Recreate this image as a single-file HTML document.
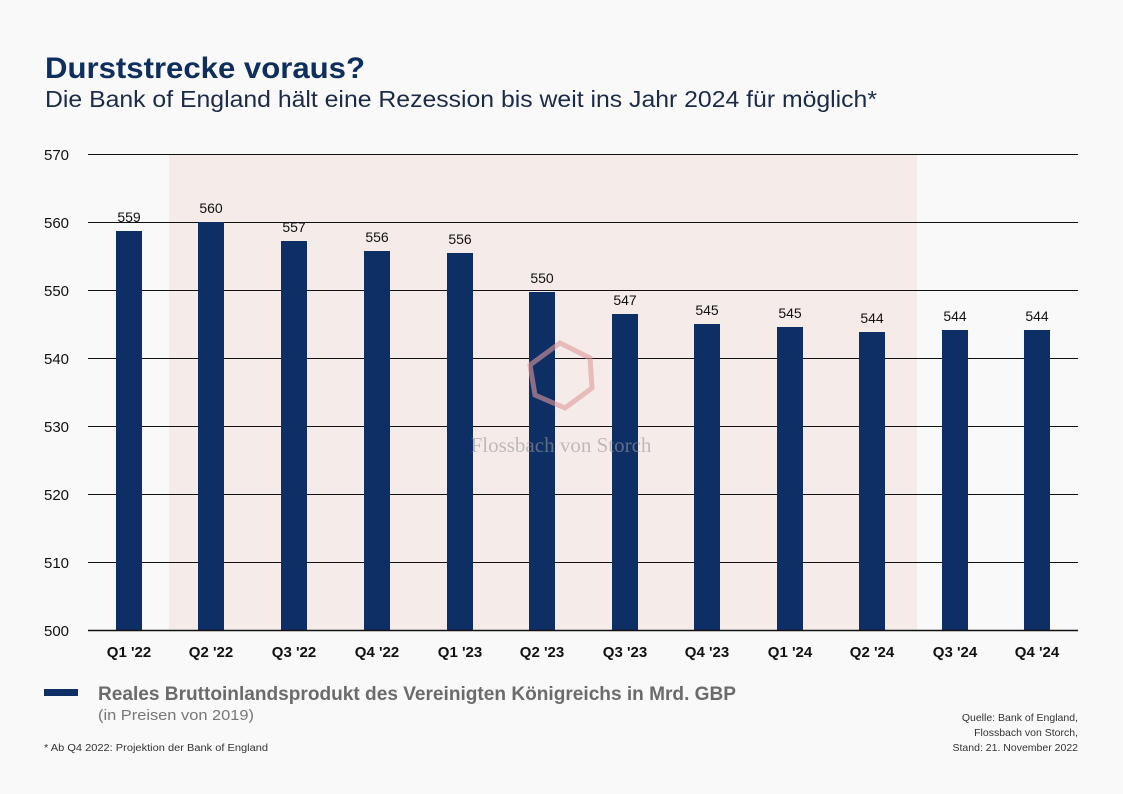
<!DOCTYPE html>
<html><head><meta charset="utf-8"><style>
html,body{margin:0;padding:0;background:#f9f9f9}
svg{display:block;font-family:"Liberation Sans",sans-serif}
</style></head><body>
<svg width="1123" height="794" viewBox="0 0 1123 794" xmlns="http://www.w3.org/2000/svg">
<rect width="1123" height="794" fill="#f9f9f9"/>
<text x="45" y="78" font-size="30" font-weight="bold" fill="#0e2e5e" textLength="320" lengthAdjust="spacingAndGlyphs">Durststrecke voraus?</text>
<text x="45" y="107" font-size="23" fill="#1c2a4a" textLength="832" lengthAdjust="spacingAndGlyphs">Die Bank of England hält eine Rezession bis weit ins Jahr 2024 für möglich*</text>
<rect x="169" y="154" width="748" height="476" fill="#f5ecea"/>
<g stroke="#111" stroke-width="1">
<line x1="88" x2="1078" y1="154.5" y2="154.5"/><line x1="88" x2="1078" y1="222.5" y2="222.5"/>
<line x1="88" x2="1078" y1="290.5" y2="290.5"/><line x1="88" x2="1078" y1="358.5" y2="358.5"/>
<line x1="88" x2="1078" y1="426.5" y2="426.5"/><line x1="88" x2="1078" y1="494.5" y2="494.5"/>
<line x1="88" x2="1078" y1="562.5" y2="562.5"/>
</g>
<g font-size="15" fill="#111">
<text x="44" y="160">570</text><text x="44" y="228">560</text><text x="44" y="296">550</text><text x="44" y="364">540</text>
<text x="44" y="432">530</text><text x="44" y="500">520</text><text x="44" y="568">510</text><text x="44" y="636">500</text>
</g>
<g fill="#0e2e66">
<rect x="116" y="231" width="26" height="399"/><rect x="198" y="222" width="26" height="408"/>
<rect x="281" y="241" width="26" height="389"/><rect x="364" y="251" width="26" height="379"/>
<rect x="447" y="253" width="26" height="377"/><rect x="529" y="292" width="26" height="338"/>
<rect x="612" y="314" width="26" height="316"/><rect x="694" y="324" width="26" height="306"/>
<rect x="777" y="327" width="26" height="303"/><rect x="859" y="332" width="26" height="298"/>
<rect x="942" y="330" width="26" height="300"/><rect x="1024" y="330" width="26" height="300"/>
</g>
<polygon points="560,343 590,358 592,388 565,408 535,395 530,365" fill="none" stroke="#e09a9a" stroke-width="5" opacity="0.6"/>
<text x="561" y="452" font-size="21" font-family="Liberation Serif,serif" fill="#999" text-anchor="middle" opacity="0.6">Flossbach von Storch</text>
<line x1="88" x2="1078" y1="630.5" y2="630.5" stroke="#111" stroke-width="1.5"/>
<g font-size="14" fill="#111" text-anchor="middle">
<text x="129" y="222">559</text><text x="211" y="213">560</text><text x="294" y="232">557</text><text x="377" y="242">556</text>
<text x="460" y="244">556</text><text x="542" y="283">550</text><text x="625" y="305">547</text><text x="707" y="315">545</text>
<text x="790" y="318">545</text><text x="872" y="323">544</text><text x="955" y="321">544</text><text x="1037" y="321">544</text>
</g>
<g font-size="15" font-weight="bold" fill="#111" text-anchor="middle">
<text x="129" y="657">Q1 '22</text><text x="211" y="657">Q2 '22</text><text x="294" y="657">Q3 '22</text><text x="377" y="657">Q4 '22</text>
<text x="460" y="657">Q1 '23</text><text x="542" y="657">Q2 '23</text><text x="625" y="657">Q3 '23</text><text x="707" y="657">Q4 '23</text>
<text x="790" y="657">Q1 '24</text><text x="872" y="657">Q2 '24</text><text x="955" y="657">Q3 '24</text><text x="1037" y="657">Q4 '24</text>
</g>
<rect x="44" y="689" width="34" height="7" fill="#0e2e66"/>
<text x="98" y="700" font-size="19" font-weight="bold" fill="#6b6b6b" textLength="638" lengthAdjust="spacingAndGlyphs">Reales Bruttoinlandsprodukt des Vereinigten Königreichs in Mrd. GBP</text>
<text x="98" y="720" font-size="15" fill="#777" textLength="156" lengthAdjust="spacingAndGlyphs">(in Preisen von 2019)</text>
<text x="44" y="751" font-size="10" fill="#333" textLength="224" lengthAdjust="spacingAndGlyphs">* Ab Q4 2022: Projektion der Bank of England</text>
<g font-size="10.5" fill="#333" text-anchor="end">
<text x="1078" y="721">Quelle: Bank of England,</text>
<text x="1078" y="736">Flossbach von Storch,</text>
<text x="1078" y="751">Stand: 21. November 2022</text>
</g>
</svg>
</body></html>
